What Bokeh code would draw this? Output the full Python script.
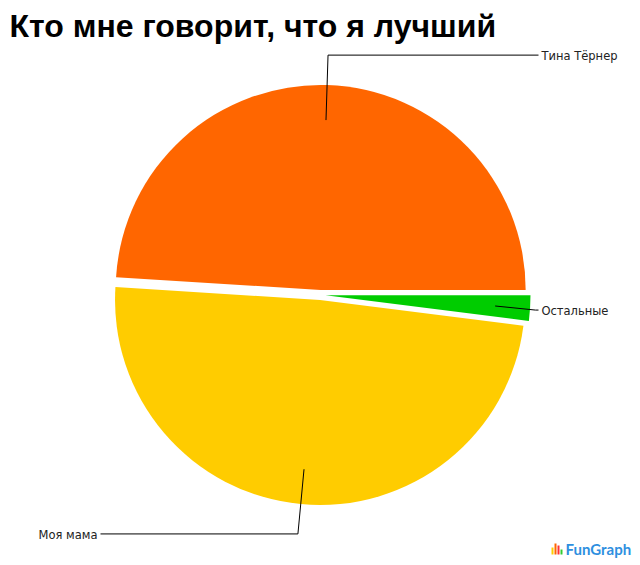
import numpy as np
from bokeh.plotting import figure
from bokeh.models import Range1d
from bokeh.core.properties import value
from bokeh.embed import file_html
from bokeh.resources import INLINE

# ---- data ----
title = "Кто мне говорит, что я лучший"
labels = ["Тина Тёрнер", "Моя мама", "Остальные"]
values = [49, 49, 2]
colors = ["#FF6600", "#FFCC00", "#00CC00"]

# ---- layout (reference pixel coordinates, y measured down) ----
W, H = 640, 565
CX, CY, R = 320.0, 294.5, 205.0
EXPLODE = 5.0
ANCHOR_R = 170.0
ELBOW_R = 235.0
RIGHT_LINE_END, RIGHT_LABEL_X = 538.0, 541.0
LEFT_LINE_END, LEFT_LABEL_X = 100.0, 97.0


def Y(yr):
    return H - yr


p = figure(width=W, height=H, x_range=Range1d(0, W), y_range=Range1d(0, H),
           output_backend="svg", toolbar_location=None, min_border=0)
p.axis.visible = False
p.grid.visible = False
p.outline_line_color = None
p.background_fill_color = "white"
p.border_fill_color = "white"

vals = np.array(values, dtype=float)
frac = vals / vals.sum()
ends = np.cumsum(frac) * 2 * np.pi
starts = ends - frac * 2 * np.pi
mids = (starts + ends) / 2

ax = CX + EXPLODE * np.cos(mids)
ay = Y(CY) + EXPLODE * np.sin(mids)

p.wedge(x=ax, y=ay, radius=R, start_angle=starts, end_angle=ends,
        fill_color=colors, line_color=None)

for i, lab in enumerate(labels):
    x0 = ax[i] + ANCHOR_R * np.cos(mids[i])
    y0 = ay[i] + ANCHOR_R * np.sin(mids[i])
    ex = ax[i] + ELBOW_R * np.cos(mids[i])
    ey = ay[i] + ELBOW_R * np.sin(mids[i])
    if np.cos(mids[i]) >= 0:
        ex = min(ex, RIGHT_LINE_END - 3)
        xs = [x0, ex, RIGHT_LINE_END]
        lx, align = RIGHT_LABEL_X, "left"
    else:
        ex = max(ex, LEFT_LINE_END)
        xs = [x0, ex, LEFT_LINE_END]
        lx, align = LEFT_LABEL_X, "right"
    p.line(x=xs, y=[y0, ey, ey], line_color="black", line_width=1)
    p.text(x=[lx], y=[ey - 1], text=[lab], text_font=value("DejaVu Sans"),
           text_font_size="11.5px", text_color="#222222", text_align=align,
           text_baseline="middle")

p.text(x=[9], y=[Y(25)], text=[title], text_font=value("Liberation Sans"),
       text_font_style="bold", text_font_size="32px", text_color="black",
       text_baseline="middle")

# logo
logo_colors = ["#FFCC00", "#FF6600", "#FF3333", "#33CC33"]
logo_h = [7, 11, 9, 5]
for k, (c, h) in enumerate(zip(logo_colors, logo_h)):
    p.quad(left=551 + 3 * k, right=553 + 3 * k, bottom=Y(554), top=Y(554) + h,
           fill_color=c, line_color=None)
p.text(x=[565], y=[Y(548)], text=["FunGraph"], text_font=value("Lato"),
       text_font_style="bold", text_font_size="15px", text_color="#2E8FE0",
       text_baseline="middle")

open("out.html", "w").write(file_html(p, INLINE))
